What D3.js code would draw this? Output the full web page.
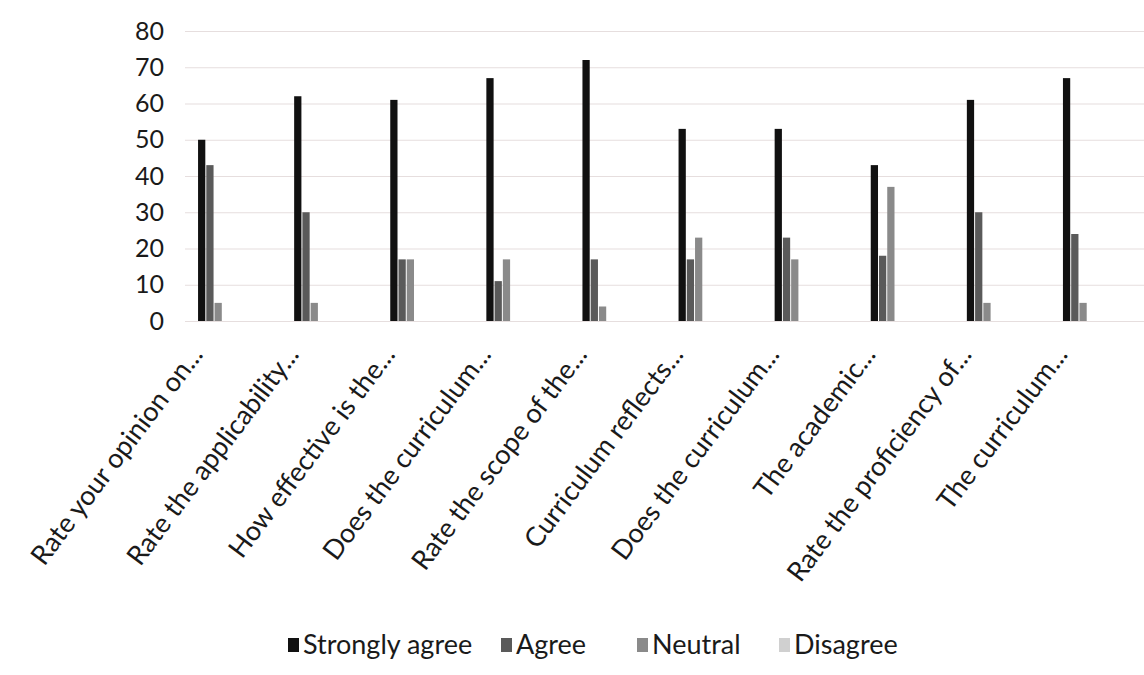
<!DOCTYPE html>
<html>
<head>
<meta charset="utf-8">
<script src="https://cdn.jsdelivr.net/npm/d3@7"></script>
<style>
  body { margin: 0; background: #fff; }
  text { font-family: Lato, "Open Sans", sans-serif; fill: #1a1a1a; }
</style>
</head>
<body>
<div id="chart"></div>
<script>
var width = 1144;
var height = 675;

// data
var categories = [
  "Rate your opinion on...",
  "Rate the applicability...",
  "How effective is the...",
  "Does the curriculum...",
  "Rate the scope of the...",
  "Curriculum reflects...",
  "Does the curriculum...",
  "The academic...",
  "Rate the proficiency of...",
  "The curriculum..."
];
var seriesNames = ["Strongly agree", "Agree", "Neutral", "Disagree"];
var stronglyAgree = [50, 62, 61, 67, 72, 53, 53, 43, 61, 67];
var agree        = [43, 30, 17, 11, 17, 17, 23, 18, 30, 24];
var neutral      = [5, 5, 17, 17, 4, 23, 17, 37, 5, 5];
var disagree     = [0, 0, 0, 0, 0, 0, 0, 0, 0, 0];
var yTicks = [0, 10, 20, 30, 40, 50, 60, 70, 80];

var seriesValues = [stronglyAgree, agree, neutral, disagree];
var colors = ["#111111", "#5a5a5a", "#8a8a8a", "#d0d0d0"];

var svg = d3.select("#chart").append("svg")
      .attr("width", width)
      .attr("height", height);

// scales
var x0 = d3.scaleBand()
      .domain(d3.range(categories.length))
      .range([166, 1127])
      .paddingInner(0);

var x1 = d3.scaleBand()
      .domain(d3.range(seriesNames.length))
      .range([-16, 16])
      .paddingInner(0.12);

var y = d3.scaleLinear()
      .domain([0, 80])
      .range([321, 31]);

// gridlines
var grid = svg.append("g")
      .attr("transform", "translate(185,0)")
      .call(d3.axisLeft(y).tickValues(yTicks).tickSize(-(width - 185)).tickFormat(""));
grid.select(".domain").remove();
grid.selectAll("line").attr("stroke", "#e6dede").attr("stroke-width", 1.2);

// y axis labels
var yAxis = svg.append("g")
      .attr("transform", "translate(164,0)")
      .call(d3.axisLeft(y).tickValues(yTicks).tickSize(0).tickPadding(0));
yAxis.select(".domain").remove();
yAxis.selectAll("text")
      .style("font-size", "25px")
      .attr("fill", "#1a1a1a");

// bars
var groups = svg.append("g").selectAll("g")
      .data(categories)
      .enter().append("g")
      .attr("transform", (d, i) => "translate(" + (x0(i) + x0.bandwidth() / 2) + ",0)");

groups.selectAll("rect")
      .data((d, i) => seriesValues.map((s, k) => ({ k: k, v: s[i] })))
      .enter().append("rect")
      .attr("x", d => x1(d.k))
      .attr("width", x1.bandwidth())
      .attr("y", d => y(d.v))
      .attr("height", d => y(0) - y(d.v))
      .attr("fill", d => colors[d.k]);

// category labels
svg.append("g").selectAll("text")
      .data(categories)
      .enter().append("text")
      .attr("transform", (d, i) => "translate(" + (x0(i) + x0.bandwidth() / 2 - 10) + ",355) rotate(-53)")
      .attr("text-anchor", "end")
      .style("font-size", "27px")
      .text(d => d);

// legend
var legendX = [288, 501, 637, 779];
var legend = svg.append("g").selectAll("g")
      .data(seriesNames)
      .enter().append("g")
      .attr("transform", (d, i) => "translate(" + legendX[i] + ",645)");
legend.append("rect")
      .attr("x", 0)
      .attr("y", -7)
      .attr("width", 11)
      .attr("height", 14)
      .attr("fill", (d, i) => colors[i]);
legend.append("text")
      .attr("x", 15)
      .attr("dy", "0.35em")
      .style("font-size", "27px")
      .text(d => d);
</script>
</body>
</html>
